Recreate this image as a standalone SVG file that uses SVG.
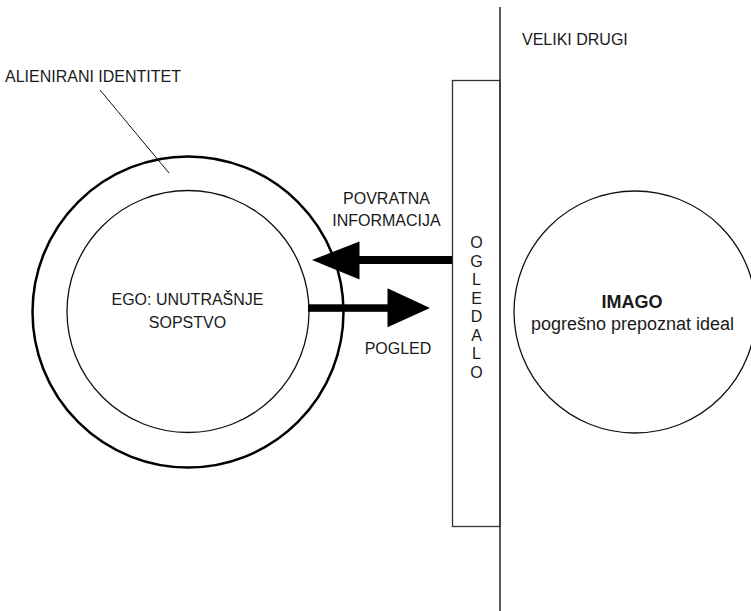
<svg xmlns="http://www.w3.org/2000/svg" width="751" height="611" viewBox="0 0 751 611">
<defs>
<style>
text{font-family:"Liberation Sans",Arial,sans-serif;font-size:16px;fill:#1a1a1a}
.c{text-anchor:middle}
.thin{fill:none;stroke:#111;stroke-width:1.3}
.thick{fill:none;stroke:#000;stroke-width:2.5}
.arrow{fill:#000;stroke:none}
</style>
</defs>
<rect width="751" height="611" fill="#fff"/>
<g id="veliki-drugi">
<line x1="500" y1="7" x2="500" y2="611" stroke="#5c5c5c" stroke-width="2"/>
<text x="522" y="45">VELIKI DRUGI</text>
</g>
<g id="ogledalo">
<rect x="452.5" y="80.5" width="47.5" height="446" fill="none" stroke="#333" stroke-width="1.3"/>
<text class="c" x="476.5" y="248">O</text>
<text class="c" x="476.5" y="266.5">G</text>
<text class="c" x="476.5" y="285">L</text>
<text class="c" x="476.5" y="303.5">E</text>
<text class="c" x="476.5" y="322">D</text>
<text class="c" x="476.5" y="340.5">A</text>
<text class="c" x="476.5" y="359">L</text>
<text class="c" x="476.5" y="377.5">O</text>
</g>
<g id="alienirani-identitet">
<circle class="thick" cx="188" cy="312" r="155.5"/>
<line x1="100" y1="90" x2="169" y2="173" stroke="#111" stroke-width="1"/>
<text x="5" y="82">ALIENIRANI IDENTITET</text>
</g>
<g id="ego">
<circle class="thin" cx="188" cy="311.5" r="121"/>
<text class="c" x="187.5" y="305">EGO: UNUTRAŠNJE</text>
<text class="c" x="187.5" y="328">SOPSTVO</text>
</g>
<g id="imago">
<circle class="thin" cx="635" cy="312" r="121"/>
<text class="c" x="632" y="308" style="font-weight:bold;font-size:18px">IMAGO</text>
<text class="c" x="632.5" y="330" style="font-size:18px">pogrešno prepoznat ideal</text>
</g>
<g id="connectors">
<g id="povratna-informacija">
<rect class="arrow" x="358" y="256" width="94" height="8"/>
<polygon class="arrow" points="312,260 359.5,241.5 359.5,279.5"/>
<text class="c" x="386.5" y="204">POVRATNA</text>
<text class="c" x="386.5" y="226">INFORMACIJA</text>
</g>
<g id="pogled">
<rect class="arrow" x="308" y="304.3" width="82" height="7.5"/>
<polygon class="arrow" points="430,308 387.5,288.3 387.5,327.3"/>
<text class="c" x="398" y="354">POGLED</text>
</g>
</g>
</svg>
